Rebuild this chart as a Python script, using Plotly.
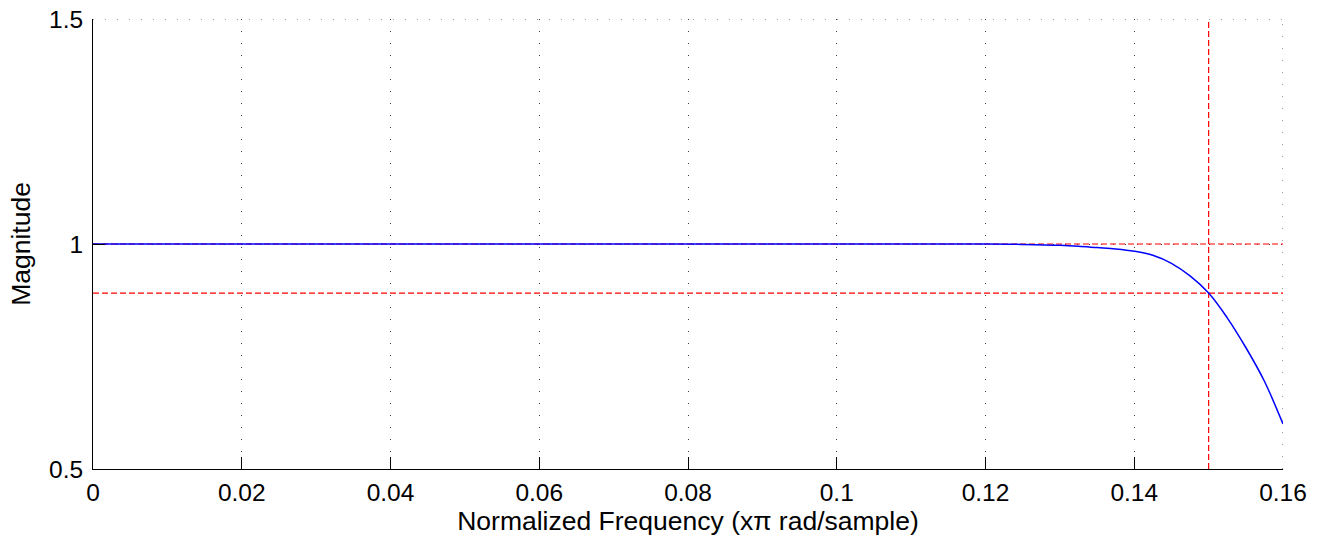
import plotly.graph_objects as go

# Magnitude response (normalized frequency, x pi rad/sample)
freq = [0.0, 0.02, 0.04, 0.06, 0.08, 0.10, 0.12, 0.125, 0.13, 0.1325, 0.135,
        0.1375, 0.14, 0.1425, 0.145, 0.1475, 0.15, 0.1525, 0.155, 0.1575, 0.16]
magnitude = [1.0, 1.0, 1.0, 1.0, 1.0, 1.0, 1.0, 0.999, 0.997, 0.995, 0.992,
             0.989, 0.984, 0.975, 0.957, 0.929, 0.891, 0.836, 0.770, 0.695, 0.60]

# Reference markers (red dashed)
passband_edge = 0.15
ref_levels = [1.0, 0.891]
x_range = [0.0, 0.16]
y_range = [0.5, 1.5]

x_ticks = [0, 0.02, 0.04, 0.06, 0.08, 0.1, 0.12, 0.14, 0.16]
x_tick_text = ["0", "0.02", "0.04", "0.06", "0.08", "0.1", "0.12", "0.14", "0.16"]
y_ticks = [0.5, 1.0, 1.5]
y_tick_text = ["0.5", "1", "1.5"]

grid_color = "rgba(0,0,0,0.75)"
grid_dash = "1px,11px"
red_dash = "6px,3px"
fig = go.Figure()
# dotted grid lines at the top and right edges of the plot (as in the reference)
fig.add_trace(go.Scatter(x=x_range, y=[y_range[1], y_range[1]], mode="lines",
                         line=dict(color=grid_color, width=1, dash=grid_dash),
                         hoverinfo="skip", showlegend=False, cliponaxis=False))
fig.add_trace(go.Scatter(x=[x_range[1], x_range[1]], y=y_range, mode="lines",
                         line=dict(color=grid_color, width=1, dash=grid_dash),
                         hoverinfo="skip", showlegend=False, cliponaxis=False))
for lvl in ref_levels:
    fig.add_trace(go.Scatter(x=x_range, y=[lvl, lvl], mode="lines",
                             line=dict(color="#ff0000", width=1.2, dash=red_dash),
                             hoverinfo="skip", showlegend=False))
fig.add_trace(go.Scatter(x=[passband_edge, passband_edge], y=y_range, mode="lines",
                         line=dict(color="#ff0000", width=1.2, dash=red_dash),
                         hoverinfo="skip", showlegend=False))
fig.add_trace(go.Scatter(x=freq, y=magnitude, mode="lines", line_shape="spline",
                         line=dict(color="#0000ff", width=1.5), showlegend=False))

font_family = "Liberation Sans, Arial, sans-serif"
fig.update_layout(
    width=1325, height=546,
    margin=dict(l=93, r=42, t=19, b=77, autoexpand=False),
    paper_bgcolor="white", plot_bgcolor="white",
    font=dict(family=font_family, size=24.5, color="black"),
    showlegend=False,
)
grid_common = dict(showgrid=True, gridcolor=grid_color, gridwidth=1,
                   griddash=grid_dash, zeroline=False, showline=True,
                   linecolor="black", linewidth=1, mirror=False, automargin=False,
                   ticks="inside", ticklen=12, tickcolor="black", tickwidth=1)
fig.update_xaxes(range=x_range, tickvals=x_ticks, ticktext=x_tick_text,
                 title=dict(text="Normalized Frequency (x\u03c0 rad/sample)",
                            font=dict(size=26.5), standoff=4),
                 ticklabelstandoff=2,
                 **grid_common)
fig.update_yaxes(range=y_range, tickvals=y_ticks, ticktext=y_tick_text,
                 title=dict(text="Magnitude", font=dict(size=26.5), standoff=10),
                 ticklabelstandoff=4,
                 **grid_common)

fig.write_html("out.html")
